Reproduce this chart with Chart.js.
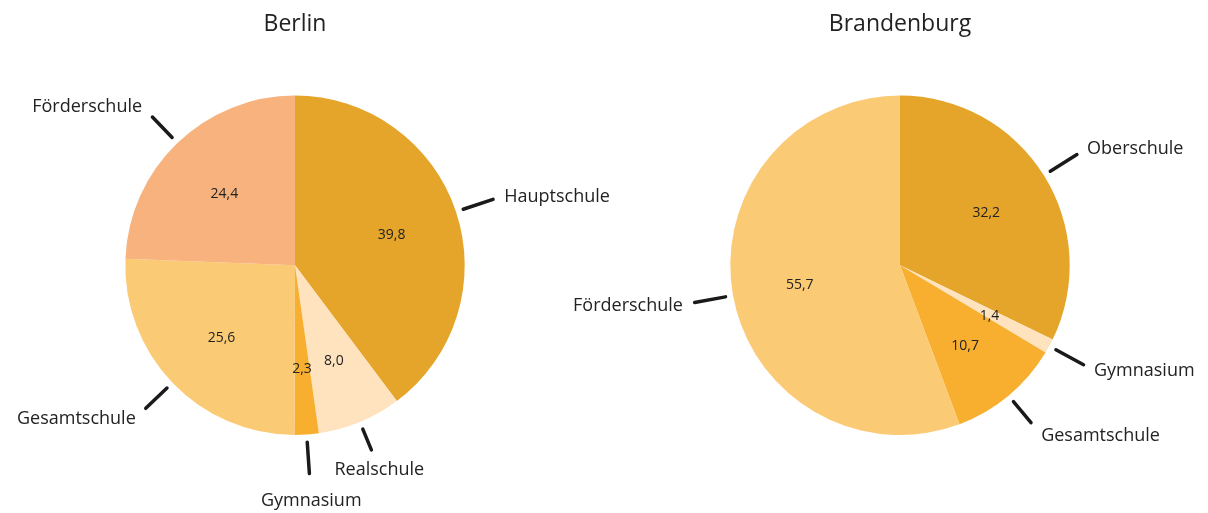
<!DOCTYPE html>
<html lang="de">
<head>
<meta charset="utf-8">
<title>Schulformen – Berlin und Brandenburg</title>
<script src="https://cdn.jsdelivr.net/npm/chart.js@4.4.1/dist/chart.umd.min.js"></script>
<style>
  html, body { margin: 0; padding: 0; background: #ffffff; }
  #wrap { position: relative; width: 1208px; height: 513px; }
  #wrap canvas { position: absolute; top: 0; left: 0; }
</style>
</head>
<body>
<div id="wrap">
  <canvas id="berlin" width="1208" height="513"></canvas>
  <canvas id="brandenburg" width="1208" height="513"></canvas>
</div>
<script>
// Anteile nach Schulform (in %)
const berlinLabels = ['Hauptschule', 'Realschule', 'Gymnasium', 'Gesamtschule', 'Förderschule'];
const berlinValues = [39.8, 8.0, 2.3, 25.6, 24.4];

const brandenburgLabels = ['Oberschule', 'Gymnasium', 'Gesamtschule', 'Förderschule'];
const brandenburgValues = [32.2, 1.4, 10.7, 55.7];

const palette = ['#E5A52B', '#FFE3BE', '#F8AF2F', '#FBCA75', '#F7B27D'];

const FONT = '"Open Sans", "Noto Sans", sans-serif';
const TEXT = '#222222';

const fmt = v => v.toFixed(1).replace('.', ',');

// Werte in den Segmenten, Führungslinien und Beschriftungen außen
const pieLabels = {
  id: 'pieLabels',
  afterDatasetsDraw(chart) {
    const ctx = chart.ctx;
    const meta = chart.getDatasetMeta(0);
    const values = chart.data.datasets[0].data;
    const names = chart.data.labels;
    const placed = [];
    ctx.save();
    meta.data.forEach((arc, i) => {
      const p = arc.getProps(['x', 'y', 'startAngle', 'endAngle', 'outerRadius'], true);
      const mid = (p.startAngle + p.endAngle) / 2;
      const dx = Math.cos(mid), dy = Math.sin(mid);
      const R = p.outerRadius;

      // value inside the slice
      ctx.font = '14px ' + FONT;
      ctx.fillStyle = TEXT;
      ctx.textAlign = 'center';
      ctx.textBaseline = 'middle';
      ctx.fillText(fmt(values[i]), p.x + dx * R * 0.6, p.y + dy * R * 0.6 + 2);

      // outer label box
      ctx.font = '18px ' + FONT;
      const w = ctx.measureText(names[i]).width;
      const h = 18;
      const align = dx > 0.5 ? 'left' : (dx < -0.5 ? 'right' : 'center');
      const boxAt = r => {
        const ax = p.x + dx * r, ay = p.y + dy * r;
        const left = align === 'left' ? ax : (align === 'right' ? ax - w : ax - w / 2);
        return { ax, ay, l: left, r: left + w, t: ay - h / 2, b: ay + h / 2 };
      };
      const hits = (b, m) => placed.some(o => b.l < o.r + m && b.r > o.l - m && b.t < o.b + m && b.b > o.t - m);
      let rl = R * 1.3;
      let box = boxAt(rl);
      while (hits(box, 13) && rl < R * 2) { rl += 1; box = boxAt(rl); }
      placed.push(box);

      // leader line, kept clear of its label
      const r0 = R * 1.045;
      let r1 = R * 1.23;
      const gap = 10;
      const inside = r => {
        const x = p.x + dx * r, y = p.y + dy * r;
        return x > box.l - gap && x < box.r + gap && y > box.t - gap && y < box.b + gap;
      };
      while (inside(r1) && r1 > r0 + 8) r1 -= 1;
      ctx.strokeStyle = '#1a1a1a';
      ctx.lineWidth = 3.5;
      ctx.lineCap = 'round';
      ctx.beginPath();
      ctx.moveTo(p.x + dx * r0, p.y + dy * r0);
      ctx.lineTo(p.x + dx * r1, p.y + dy * r1);
      ctx.stroke();

      ctx.fillStyle = TEXT;
      ctx.textAlign = align;
      ctx.textBaseline = 'middle';
      ctx.fillText(names[i], box.ax, box.ay + 1);
    });
    ctx.restore();
  }
};

function makePie(id, title, labels, values, padL, padR) {
  return new Chart(document.getElementById(id), {
    type: 'pie',
    data: {
      labels: labels,
      datasets: [{
        data: values,
        backgroundColor: palette.slice(0, values.length),
        borderWidth: 0
      }]
    },
    options: {
      responsive: false,
      animation: false,
      devicePixelRatio: 1,
      layout: { padding: { left: padL, right: padR, top: 0, bottom: 78 } },
      plugins: {
        legend: { display: false },
        tooltip: { enabled: false },
        title: {
          display: true,
          text: title,
          color: TEXT,
          font: { family: FONT, size: 23, weight: 'normal', lineHeight: 1.2 },
          padding: { top: 10.4, bottom: 57.6 }
        }
      }
    },
    plugins: [pieLabels]
  });
}

makePie('berlin', 'Berlin', berlinLabels, berlinValues, 125, 743);
makePie('brandenburg', 'Brandenburg', brandenburgLabels, brandenburgValues, 730, 138);
</script>
</body>
</html>
